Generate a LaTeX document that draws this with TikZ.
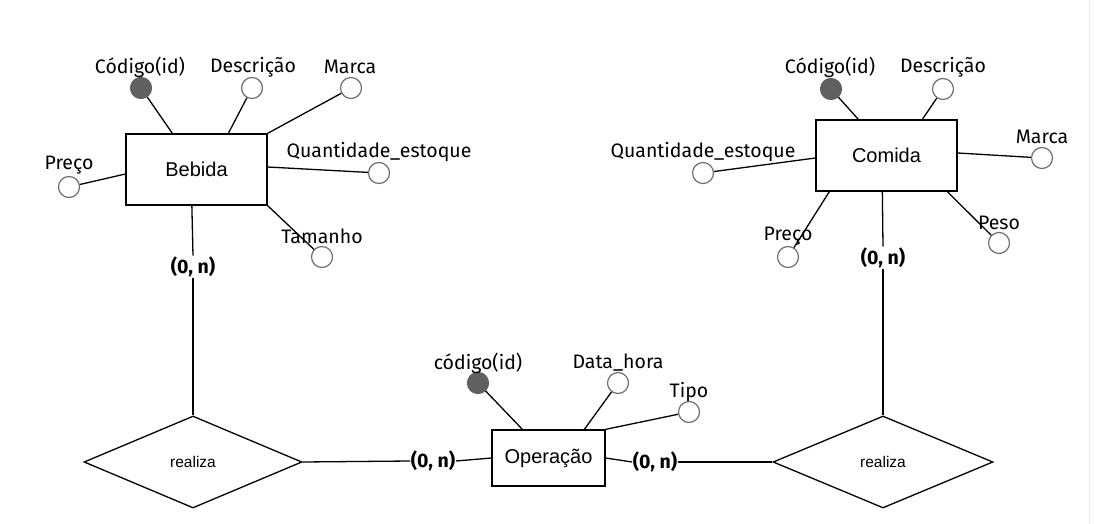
\documentclass[tikz,border=0pt]{standalone}
\usepackage{fontspec}
\setmainfont{Fira Sans}
\newfontfamily\arialf{Liberation Sans}
\usetikzlibrary{shapes.geometric,calc}
\definecolor{attrline}{HTML}{707070}
\definecolor{keyfill}{HTML}{606060}
\tikzset{
  conn/.style={line width=1.3pt,black},
  ent/.style={draw,line width=1.3pt,inner sep=0pt,font=\arialf\fontsize{20}{22}\selectfont},
  rel/.style={draw,line width=1.3pt,diamond,inner sep=0pt,font=\arialf\fontsize{15.5}{17}\selectfont},
  attr/.style={circle,draw=attrline,fill=white,line width=1.2pt,minimum size=21pt,inner sep=0pt},
  keyattr/.style={attr,draw=keyfill,fill=keyfill},
  lbl/.style={inner sep=1pt,font=\fontsize{19.5}{21}\selectfont},
  card/.style={inner xsep=0.5pt,inner ysep=1pt,font=\bfseries\fontsize{19.5}{21}\selectfont},
}
\begin{document}
\begin{tikzpicture}[x=1pt,y=-1pt]
\useasboundingbox (0,0) rectangle (1094,524);
\draw[gray!15,line width=1pt] (1089,0) -- (1089,524);

% entities
\node[ent,minimum width=141pt,minimum height=71pt] (bebida) at (196.5,169.5) {Bebida};
\node[ent,minimum width=141pt,minimum height=71pt] (comida) at (886.5,155.5) {Comida};
\node[ent,minimum width=113pt,minimum height=56pt] (op) at (548.5,458) {Operação};

% relationships
\node[rel,minimum width=218pt,minimum height=92pt,shape aspect=2.37] (d1) at (193,462) {realiza};
\node[rel,minimum width=220pt,minimum height=92pt,shape aspect=2.39] (d2) at (883,462) {realiza};

% cardinalities
\node[card] (l1) at (193,267) {(0, n)};
\node[card] (l2) at (433,461) {(0, n)};
\node[card] (l3) at (655,462) {(0, n)};
\node[card] (l4) at (883,258) {(0, n)};

\draw[conn] ($(bebida.south west)+(66.5,0)$) -- (l1.north);
\draw[conn] (l1.south) -- (d1.north);
\draw[conn] (d1.east) -- (l2.west);
\draw[conn] (l2.east) -- (op.west);
\draw[conn] (op.east) -- (l3.west);
\draw[conn] (l3.east) -- (d2.west);
\draw[conn] ($(comida.south west)+(67,0)$) -- (l4.north);
\draw[conn] (l4.south) -- (d2.north);

% Bebida attributes
\node[keyattr] (b1) at (141,88) {};
\node[attr] (b2) at (252,88) {};
\node[attr] (b3) at (351,88) {};
\node[attr] (b4) at (379,173) {};
\node[attr] (b5) at (69,187) {};
\node[attr] (b6) at (322,257) {};
\draw[conn] (b1) -- ($(bebida.north west)+(47,0)$);
\draw[conn] (b2) -- ($(bebida.north west)+(103,0)$);
\draw[conn] (b3) -- (bebida.north east);
\draw[conn] (b4) -- ($(bebida.east)+(0,-2.5)$);
\draw[conn] (b5) -- ($(bebida.west)+(0,4.5)$);
\draw[conn] (b6) -- (bebida.south east);
\node[lbl] (tb1) at (140,67) {Código(id)};
\node[lbl] (tb2) at (253,67) {Descrição};
\node[lbl] (tb3) at (350,67) {Marca};
\node[lbl] (tb4) at (379,152) {Quantidade\_estoque};
\node[lbl] (tb5) at (69,165) {Preço};
\node[lbl] (tb6) at (322,236) {Tamanho};

% Comida attributes
\node[keyattr] (c1) at (831,89) {};
\node[attr] (c2) at (943,89) {};
\node[attr] (c3) at (1042,158) {};
\node[attr] (c4) at (703,173) {};
\node[attr] (c5) at (788,257) {};
\node[attr] (c6) at (999,243) {};
\draw[conn] (c1) -- ($(comida.north west)+(43,0)$);
\draw[conn] (c2) -- ($(comida.north west)+(107,0)$);
\draw[conn] (c3) -- ($(comida.east)+(0,-2.5)$);
\draw[conn] (c4) -- ($(comida.west)+(0,2.5)$);
\draw[conn] (c5) -- ($(comida.south west)+(14,0)$);
\draw[conn] (c6) -- ($(comida.south west)+(132,0)$);
\node[lbl] (tc1) at (830,67) {Código(id)};
\node[lbl] (tc2) at (943,67) {Descrição};
\node[lbl] (tc3) at (1042,137) {Marca};
\node[lbl] (tc4) at (703,152) {Quantidade\_estoque};
\node[lbl] (tc5) at (788,236) {Preço};
\node[lbl] (tc6) at (999,223) {Peso};

% Operacao attributes
\node[keyattr] (o1) at (478,383) {};
\node[attr] (o2) at (618,383) {};
\node[attr] (o3) at (689,412) {};
\draw[conn] (o1) -- ($(op.north west)+(31,0)$);
\draw[conn] (o2) -- ($(op.north west)+(93,0)$);
\draw[conn] (o3) -- (op.north east);
\node[lbl] (to1) at (478,363) {código(id)};
\node[lbl] (to2) at (618,363) {Data\_hora};
\node[lbl] (to3) at (689,392) {Tipo};
\end{tikzpicture}
\end{document}
